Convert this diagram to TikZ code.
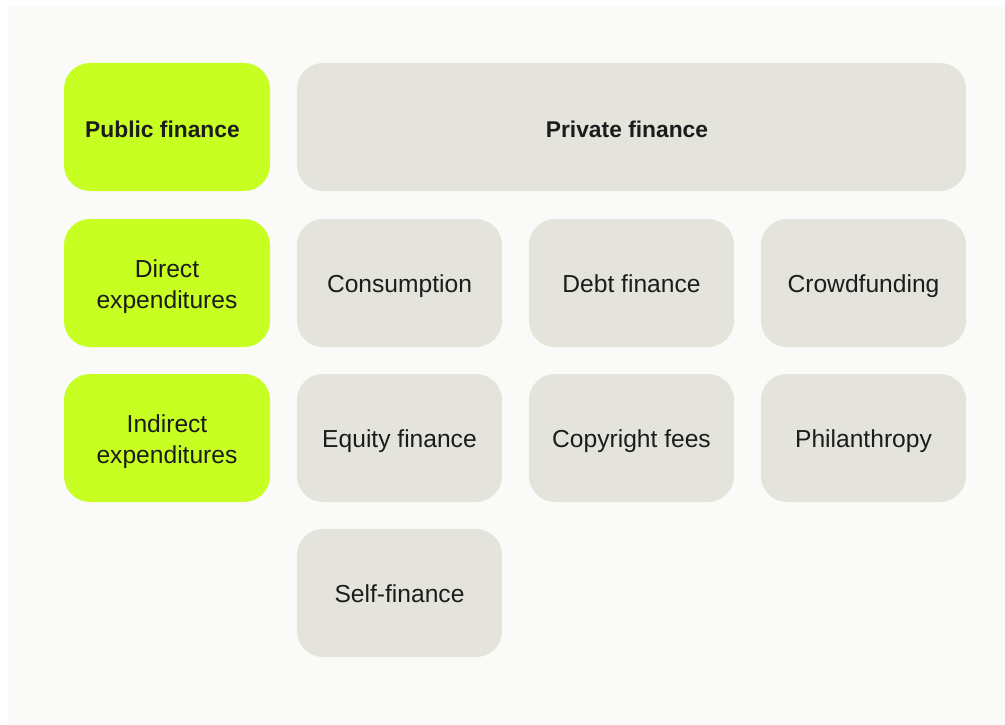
\documentclass[tikz,border=0pt]{standalone}
\usepackage{fontspec}
\setmainfont{Liberation Sans}
\definecolor{lime}{HTML}{C6FF21}
\definecolor{boxgray}{HTML}{E4E4DD}
\definecolor{pagebg}{HTML}{FAFAF8}
\definecolor{ink}{HTML}{1C1C1C}
\newcommand{\toplift}{\rule{0pt}{24.2pt}}
\tikzset{
  cell/.style={rounded corners=26pt, inner sep=0pt, minimum height=128pt, align=center, text=ink,
    font=\fontsize{24.6}{31}\selectfont},
  oneline/.style={text height=19.4pt, text depth=0pt},
  pub/.style={cell, fill=lime, minimum width=206pt},
  priv/.style={cell, fill=boxgray, minimum width=205pt},
  head/.style={font=\fontsize{22.8}{28}\selectfont\bfseries, text height=21.4pt, text depth=0pt}
}
\begin{document}
\begin{tikzpicture}[x=1pt,y=1pt]
\useasboundingbox (0,0) rectangle (1005,-725);
\fill[white] (0,0) rectangle (1005,-725);
\fill[pagebg] (8,-6) rectangle (1005,-725);
% left column
\node[pub, head] (pubfin) at (167,-127) {Public finance\hspace*{9pt}};
\node[pub] (direct) at (167,-283) {\toplift Direct\\expenditures};
\node[pub] (indirect) at (167,-438) {\toplift Indirect\\expenditures};
% private header
\node[priv, head, minimum width=669pt] (privfin) at (631.5,-127) {Private finance\hspace*{9pt}};
% private grid
\node[priv, oneline] (consumption) at (399.5,-283) {Consumption};
\node[priv, oneline] (debt) at (631.5,-283) {Debt finance};
\node[priv, oneline] (crowd) at (863.5,-283) {Crowdfunding};
\node[priv, oneline] (equity) at (399.5,-438) {Equity finance};
\node[priv, oneline] (copyright) at (631.5,-438) {Copyright fees};
\node[priv, oneline] (philan) at (863.5,-438) {Philanthropy};
\node[priv, oneline] (self) at (399.5,-593) {Self-finance};
\end{tikzpicture}
\end{document}
